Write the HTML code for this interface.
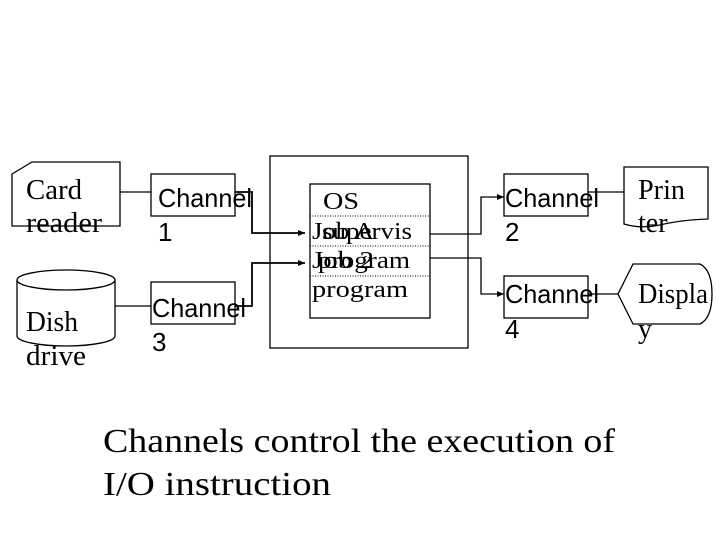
<!DOCTYPE html>
<html><head><meta charset="utf-8"><style>
html,body{margin:0;padding:0;background:#fff;}
svg{display:block;}
.s{font-family:"Liberation Serif",serif;}
.a{font-family:"Liberation Sans",sans-serif;}
</style></head><body>
<svg width="720" height="540" viewBox="0 0 720 540" xmlns="http://www.w3.org/2000/svg">
<defs><marker id="ar" markerWidth="8" markerHeight="8" refX="7" refY="4" orient="auto" markerUnits="userSpaceOnUse"><path d="M0,1 L7,4 L0,7 z" fill="#000"/></marker></defs>
<g fill="none" stroke="#000" stroke-width="1.3">
<path d="M12,174 L32,162 L120,162 L120,226 L12,226 Z"/>
<line x1="120" y1="192" x2="151" y2="192"/>
<rect x="151" y="174" width="84" height="42"/>
<path d="M17,280 L17,336 A49,10 0 0 0 115,336 L115,280"/>
<ellipse cx="66" cy="280" rx="49" ry="10"/>
<line x1="115" y1="306" x2="151" y2="306"/>
<rect x="151" y="282" width="84" height="42"/>
<path d="M235,192 L252,192 L252,233 L305,233" stroke-width="1.8" marker-end="url(#ar)"/>
<path d="M235,306 L252,306 L252,263 L305,263" stroke-width="1.8" marker-end="url(#ar)"/>
<rect x="270" y="156" width="198" height="192"/>
<rect x="310" y="184" width="120" height="134"/>
<path d="M430,234 L481,234 L481,197 L504,197" stroke-width="1.3" marker-end="url(#ar)"/>
<path d="M430,258 L481,258 L481,294 L504,294" stroke-width="1.3" marker-end="url(#ar)"/>
<rect x="504" y="174" width="84" height="42"/>
<rect x="504" y="276" width="84" height="42"/>
<line x1="588" y1="192" x2="624" y2="192"/>
<path d="M624,167 L708,167 L708,219 Q680,220 660,225 Q640,229 624,224 Z"/>
<line x1="588" y1="294" x2="618" y2="294"/>
<path d="M633,264 L700,264 Q712,270 712,294 Q712,318 700,324 L633,324 L618,294 Z"/>
</g>
<g stroke="#000" stroke-width="1" stroke-dasharray="1,1.5">
<line x1="310" y1="216" x2="430" y2="216"/>
<line x1="310" y1="246" x2="430" y2="246"/>
<line x1="310" y1="276" x2="430" y2="276"/>
</g>
<g class="s" font-size="28" fill="#000">
<text x="26" y="199" textLength="56" lengthAdjust="spacingAndGlyphs">Card</text>
<text x="26" y="232" textLength="76" lengthAdjust="spacingAndGlyphs">reader</text>
<text x="26" y="331" textLength="52" lengthAdjust="spacingAndGlyphs">Dish</text>
<text x="26" y="365" textLength="60" lengthAdjust="spacingAndGlyphs">drive</text>
<text x="638" y="199" textLength="47" lengthAdjust="spacingAndGlyphs">Prin</text>
<text x="638" y="232">ter</text>
<text x="638" y="303" textLength="70" lengthAdjust="spacingAndGlyphs">Displa</text>
<text x="638" y="338">y</text>
</g>
<g class="a" font-size="26" fill="#000">
<text x="158" y="207" textLength="94" lengthAdjust="spacingAndGlyphs">Channel</text>
<text x="158" y="241">1</text>
<text x="152" y="317" textLength="94" lengthAdjust="spacingAndGlyphs">Channel</text>
<text x="152" y="351">3</text>
<text x="505" y="207" textLength="94" lengthAdjust="spacingAndGlyphs">Channel</text>
<text x="505" y="241">2</text>
<text x="505" y="303" textLength="94" lengthAdjust="spacingAndGlyphs">Channel</text>
<text x="505" y="338">4</text>
</g>
<g class="s" font-size="24" fill="#000">
<text x="323" y="209" textLength="36" lengthAdjust="spacingAndGlyphs">OS</text>
<text x="312" y="239" textLength="62" lengthAdjust="spacingAndGlyphs">Job A</text>
<text x="322" y="239" textLength="90" lengthAdjust="spacingAndGlyphs">supervis</text>
<text x="312" y="268" textLength="62" lengthAdjust="spacingAndGlyphs">Job 2</text>
<text x="318" y="268" textLength="92" lengthAdjust="spacingAndGlyphs">program</text>
<text x="312" y="297" textLength="96" lengthAdjust="spacingAndGlyphs">program</text>
</g>
<g class="s" font-size="34" fill="#000">
<text x="103" y="452" textLength="512" lengthAdjust="spacingAndGlyphs">Channels control the execution of</text>
<text x="103" y="495" textLength="228" lengthAdjust="spacingAndGlyphs">I/O instruction</text>
</g>
</svg>
</body></html>
